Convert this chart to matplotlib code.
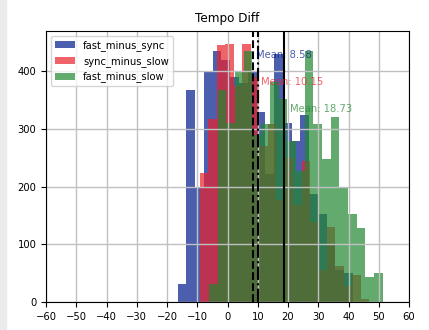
import numpy as np
import matplotlib
matplotlib.use("Agg")
import matplotlib.pyplot as plt
from matplotlib.patches import Rectangle

# series names, bin ranges (20 bins each) and counts
names = ["fast_minus_sync", "sync_minus_slow", "fast_minus_slow"]
lo = [-16.5, -9.1, -6.1]
hi = [41.5, 46.9, 51.3]
fast_minus_sync = [32, 368, 200, 400, 436, 420, 390, 380, 400, 330,
                   222, 430, 310, 280, 324, 188, 153, 100, 55, 50]
sync_minus_slow = [224, 318, 445, 448, 375, 448, 390, 270, 309, 177,
                   250, 168, 245, 139, 55, 130, 62, 27, 46, 5]
fast_minus_slow = [32, 367, 310, 400, 436, 290, 309, 381, 352, 280,
                   228, 436, 309, 248, 321, 200, 153, 128, 44, 50]
means = [8.58, 10.15, 18.73]

colors = [(0.0, 0.1, 0.55), (0.92, 0.13, 0.16), (0.13, 0.53, 0.19)]
mean_styles = ["--", "-.", "-"]
text_y = [0.9, 0.8, 0.7]

plt.rcParams["font.size"] = 7.2

fig = plt.figure(figsize=(4.29, 3.3), dpi=100)
# light grey strip on the left edge of the screenshot
fig.patches.append(Rectangle((0, 0), 6 / 429, 1, transform=fig.transFigure,
                             color="#ebebee", zorder=0))
ax = fig.add_axes([46 / 429, 1 - 302 / 330, 363 / 429, (302 - 30.7) / 330])

series = [fast_minus_sync, sync_minus_slow, fast_minus_slow]
for name, counts, a, b, c in zip(names, series, lo, hi, colors):
    edges = np.linspace(a, b, len(counts) + 1)
    ax.hist(edges[:-1], bins=edges, weights=counts, color=c, alpha=0.7, label=name)

ax.set_xlim(-60, 60)
ax.set_xticks(range(-60, 61, 10))
ymax = ax.get_ylim()[1]
for m, ls, c, ty in zip(means, mean_styles, colors, text_y):
    ax.axvline(m, color="k", linestyle=ls, linewidth=1.5)
    ax.text(m * 1.1, ymax * ty, f"Mean: {m:.2f}", color=c, alpha=0.7)

# grid sits over the bars, as in the reference
ax.grid(True, color="#c0c0c0", linewidth=1)
ax.set_title("Tempo Diff")
ax.legend(loc="upper left")

plt.savefig("out.png", dpi=100)
plt.close()
